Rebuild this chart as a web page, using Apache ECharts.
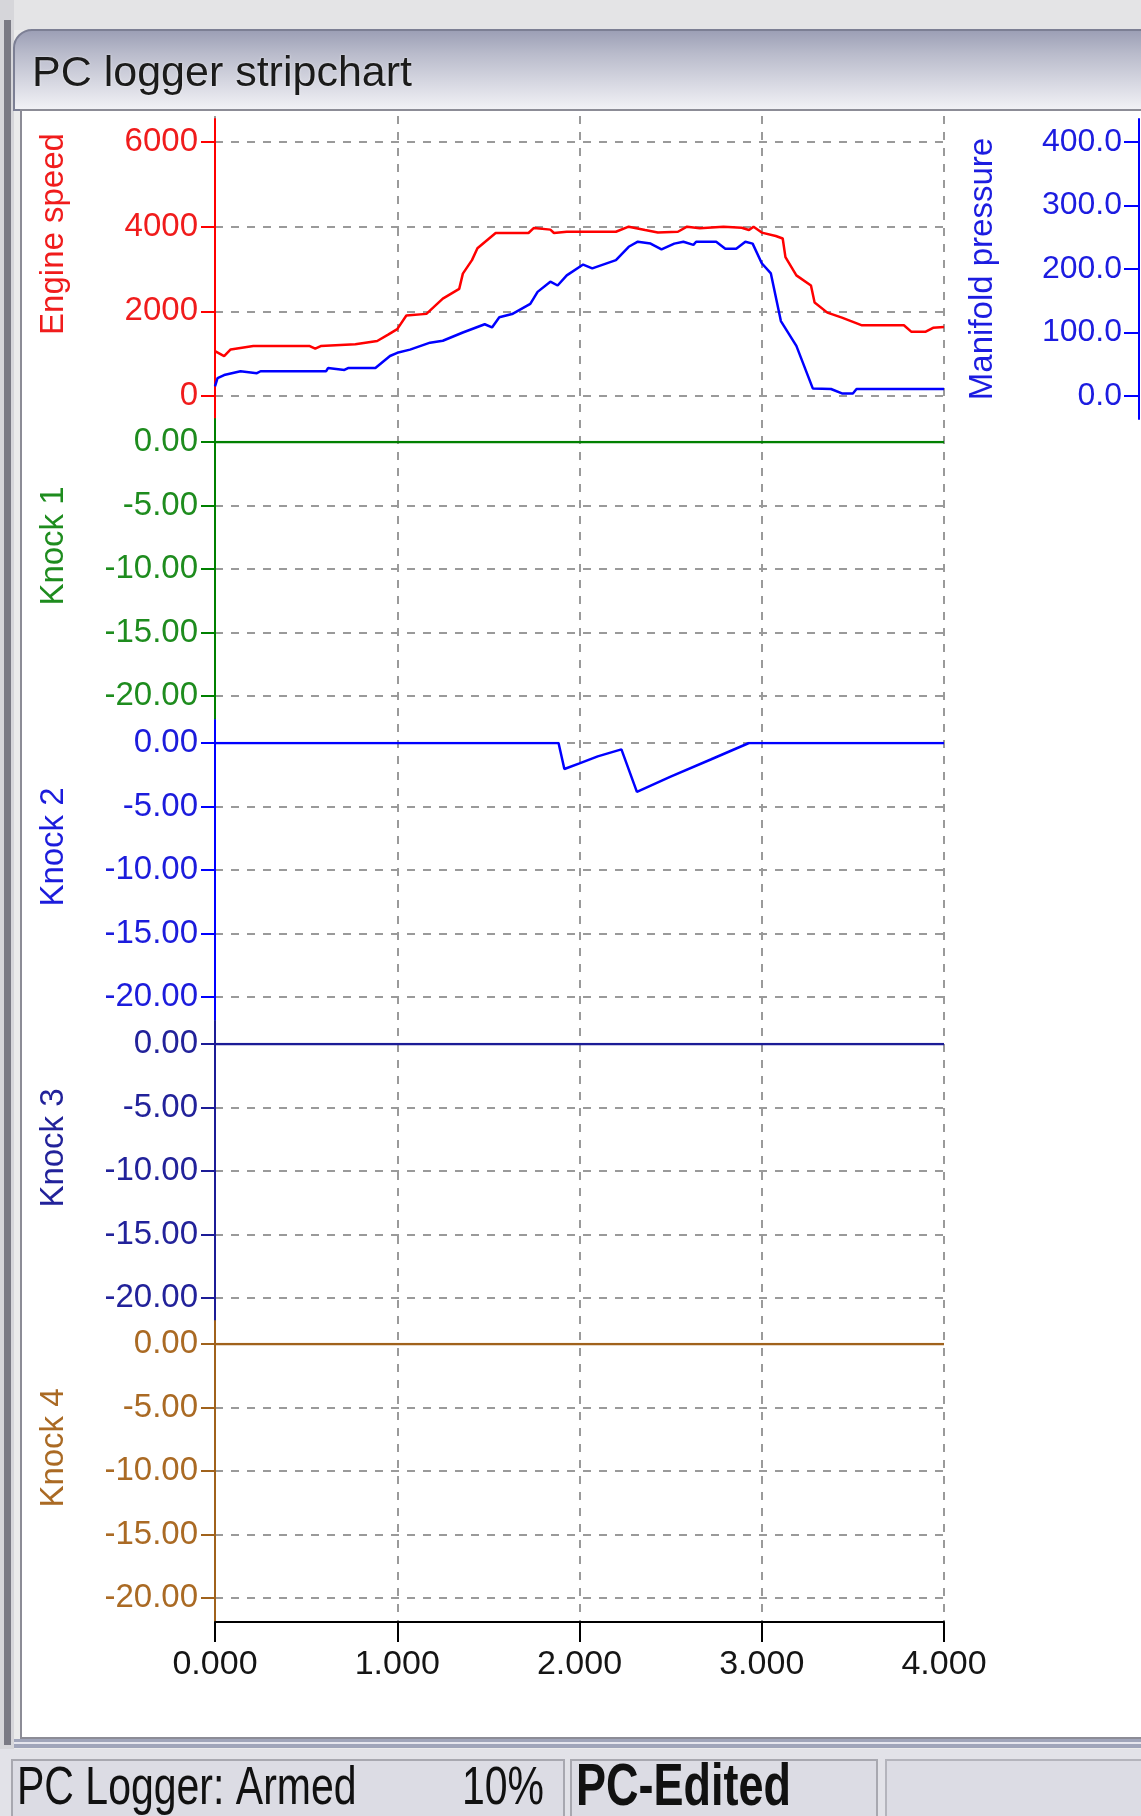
<!DOCTYPE html>
<html>
<head>
<meta charset="utf-8">
<title>PC logger stripchart</title>
<script src="https://cdn.jsdelivr.net/npm/echarts@6.0.0/dist/echarts.min.js"></script>
<style>
  html, body { margin: 0; padding: 0; background: #ebebeb; }
  #stripchart { width: 1141px; height: 1816px; }
</style>
</head>
<body>
<div id="stripchart"></div>
<script>
// time axis (s)
const timeTicks = ['0.000', '1.000', '2.000', '3.000', '4.000'];
const engineTicks = ['0', '2000', '4000', '6000'];
const manifoldTicks = ['0.0', '100.0', '200.0', '300.0', '400.0'];
const knockTicks = ['-20.00', '-15.00', '-10.00', '-5.00', '0.00'];

// engine speed (rpm)
const engineTime = [0, 0.05, 0.086, 0.21, 0.52, 0.55, 0.58, 0.77, 0.89, 0.95, 1.0, 1.05, 1.16, 1.25, 1.34, 1.36, 1.41, 1.44, 1.54,
  1.72, 1.75, 1.84, 1.86, 1.93, 2.2, 2.27, 2.36, 2.43, 2.54, 2.59, 2.66, 2.79, 2.89, 2.93, 2.955, 3.0, 3.077, 3.115, 3.13,
  3.19, 3.27, 3.29, 3.36, 3.44, 3.55, 3.78, 3.82, 3.9, 3.94, 4.0];
const engineSpeed = [1060, 940, 1100, 1180, 1180, 1120, 1180, 1220, 1300, 1450, 1580, 1900, 1940, 2300, 2530, 2890, 3210, 3490, 3850,
  3850, 3970, 3930, 3850, 3880, 3880, 4000, 3920, 3860, 3880, 4000, 3960, 4000, 3975, 3920, 4000, 3860, 3780, 3720, 3280,
  2850, 2610, 2210, 1970, 1850, 1670, 1670, 1520, 1520, 1610, 1630];

// manifold pressure (kPa)
const manifoldTime = [0, 0.014, 0.05, 0.14, 0.23, 0.25, 0.61, 0.62, 0.71, 0.73, 0.88, 0.96, 1.0, 1.07, 1.18, 1.25, 1.36, 1.48,
  1.52, 1.56, 1.63, 1.73, 1.77, 1.84, 1.88, 1.93, 2.02, 2.07, 2.2, 2.27, 2.32, 2.39, 2.45, 2.52, 2.57, 2.625, 2.64, 2.75,
  2.8, 2.86, 2.91, 2.95, 3.0, 3.05, 3.105, 3.19, 3.28, 3.38, 3.44, 3.5, 3.52, 4.0];
const manifoldPressure = [15, 28, 33, 39, 36, 39, 39, 44, 41, 44, 44, 63, 68, 73, 84, 87, 100, 113,
  108, 124, 129, 145, 164, 180, 174, 190, 207, 201, 214, 235, 243, 240, 231, 240, 243, 238, 243, 243,
  232, 232, 243, 240, 209, 193, 118, 79, 12, 11, 4, 4, 11, 11];

// knock 2 retard
const knock2Time = [0, 1.885, 1.917, 2.0, 2.1, 2.23, 2.315, 2.5, 2.72, 2.93, 4.0];
const knock2Value = [0, 0, -2.05, -1.6, -1.05, -0.5, -3.85, -2.65, -1.3, 0, 0];

// knock 1, 3 and 4 stay at zero
const knockFlatTime = [0, 4];
const knockFlatValue = [0, 0];

const panelNames = ['Engine speed', 'Knock 1', 'Knock 2', 'Knock 3', 'Knock 4'];
const panelColors = ['#ff0000', '#008000', '#0000ff', '#1c1c96', '#a0621c'];
const panelTextColors = ['#f01c1c', '#1e8c1e', '#1c1cdc', '#22229a', '#aa6a24'];
// names sit a little above the middle of each strip
const namePadding = [70, 46, 46, 46, 46];
const manifoldColor = '#0000ff';

const sansFont = "'Liberation Sans', Arial, sans-serif";

// layout
const plotLeft = 215, plotWidth = 729;
const panelTop = [142, 442, 743, 1044, 1344];
const panelHeight = 254, framePad = 23;
const gridDash = { color: '#9a9a9a', width: 2, type: [8, 8] };

const zip = (xs, ys) => xs.map((x, i) => [x, ys[i]]);

const grids = [{ left: plotLeft, width: plotWidth, top: 116, height: 1506 }];
const xAxes = [{
  gridIndex: 0, type: 'value', min: 0, max: 4, interval: 1,
  axisLine: { lineStyle: { color: '#000', width: 2 } },
  axisTick: { length: 20, lineStyle: { color: '#000', width: 2 } },
  axisLabel: { margin: 26, color: '#151515', fontSize: 34, fontFamily: sansFont,
    formatter: (v, i) => timeTicks[i] },
  splitLine: { show: true, lineStyle: gridDash }
}];
const yAxes = [{ gridIndex: 0, show: false, min: 0, max: 1 }];

const panelRanges = [
  { min: 0, max: 6000, interval: 2000, ticks: engineTicks },
  { min: -20, max: 0, interval: 5, ticks: knockTicks },
  { min: -20, max: 0, interval: 5, ticks: knockTicks },
  { min: -20, max: 0, interval: 5, ticks: knockTicks },
  { min: -20, max: 0, interval: 5, ticks: knockTicks }
];

panelTop.forEach((top, i) => {
  // frame grid: coloured axis line running a bit past the ticks
  grids.push({ left: plotLeft, width: plotWidth, top: top - framePad, height: panelHeight + 2 * framePad });
  xAxes.push({ gridIndex: grids.length - 1, type: 'value', min: 0, max: 4, show: false });
  yAxes.push({
    gridIndex: grids.length - 1, type: 'value', min: 0, max: 1,
    axisLine: { show: true, onZero: false, lineStyle: { color: panelColors[i], width: 2 } },
    axisTick: { show: false }, axisLabel: { show: false }, splitLine: { show: false }
  });
  // data grid
  const r = panelRanges[i];
  grids.push({ left: plotLeft, width: plotWidth, top: top, height: panelHeight });
  xAxes.push({ gridIndex: grids.length - 1, type: 'value', min: 0, max: 4, show: false });
  yAxes.push({
    gridIndex: grids.length - 1, type: 'value', min: r.min, max: r.max, interval: r.interval,
    name: panelNames[i], nameLocation: 'middle', nameGap: 145, nameRotate: 90, nameMoveOverlap: false,
    nameTextStyle: { color: panelTextColors[i], fontSize: 33, fontFamily: sansFont,
      padding: [0, 0, 0, namePadding[i]] },
    axisLine: { show: false },
    axisTick: { show: true, length: 14, lineStyle: { color: panelColors[i], width: 2 } },
    axisLabel: { margin: 17, color: panelTextColors[i], fontSize: 33, fontFamily: sansFont,
      formatter: (v, idx) => r.ticks[idx] },
    splitLine: { show: true, lineStyle: gridDash }
  });
});

// manifold pressure: right-hand axis of the first panel
yAxes.push({
  gridIndex: 1, type: 'value', min: 0, max: 1, position: 'right', offset: 195,
  axisLine: { show: true, onZero: false, lineStyle: { color: manifoldColor, width: 2 } },
  axisTick: { show: false }, axisLabel: { show: false }, splitLine: { show: false }
});
yAxes.push({
  gridIndex: 2, type: 'value', min: 0, max: 400, interval: 100, position: 'right', offset: 195,
  name: 'Manifold pressure', nameLocation: 'middle', nameGap: -173, nameRotate: 90, nameMoveOverlap: false,
  nameTextStyle: { color: '#1c1ce0', fontSize: 33, fontFamily: sansFont },
  axisLine: { show: false },
  axisTick: { show: true, inside: true, length: 15, lineStyle: { color: manifoldColor, width: 2 } },
  axisLabel: { inside: true, margin: 17, color: '#1c1ce0', fontSize: 32, fontFamily: sansFont,
    formatter: (v, idx) => manifoldTicks[idx] },
  splitLine: { show: false }
});

const lineSeries = (name, xi, yi, data, color) => ({
  name: name, type: 'line', xAxisIndex: xi, yAxisIndex: yi, data: data,
  showSymbol: false, symbol: 'none', z: 5,
  lineStyle: { color: color, width: 2.5 }
});

// status bar text, stretched upright like the screenshot
const statusText = (text, x, font, align) => ({
  type: 'text', x: x, y: 1789, z: 2, scaleY: 1.3,
  style: { text: text, fill: '#111', font: font, verticalAlign: 'middle', align: align || 'left' }
});

const option = {
  animation: false,
  backgroundColor: '#ebebeb',
  title: {
    text: 'PC logger stripchart', left: 32, top: 53, padding: 0,
    textStyle: { color: '#1b1b1b', fontSize: 43, fontWeight: 'normal', fontFamily: sansFont,
      textShadowColor: 'rgba(255,255,255,0.8)', textShadowBlur: 2 }
  },
  grid: grids,
  xAxis: xAxes,
  yAxis: yAxes,
  series: [
    lineSeries('Engine speed', 2, 2, zip(engineTime, engineSpeed), panelColors[0]),
    lineSeries('Manifold pressure', 2, 12, zip(manifoldTime, manifoldPressure), manifoldColor),
    lineSeries('Knock 1', 4, 4, zip(knockFlatTime, knockFlatValue), panelColors[1]),
    lineSeries('Knock 2', 6, 6, zip(knock2Time, knock2Value), panelColors[2]),
    lineSeries('Knock 3', 8, 8, zip(knockFlatTime, knockFlatValue), panelColors[3]),
    lineSeries('Knock 4', 10, 10, zip(knockFlatTime, knockFlatValue), panelColors[4])
  ],
  graphic: [
    // window chrome
    { type: 'rect', z: -10, shape: { x: 0, y: 0, width: 1141, height: 30 }, style: { fill: '#e4e4e6' } },
    { type: 'rect', z: -10, shape: { x: 0, y: 0, width: 14, height: 1750 }, style: { fill: '#d6d6da' } },
    { type: 'rect', z: -9, shape: { x: 4, y: 20, width: 7, height: 1725 }, style: { fill: '#7a7a84' } },
    { type: 'rect', z: -9, shape: { x: 14, y: 30, width: 1140, height: 80, r: [18, 0, 0, 0] },
      style: { stroke: '#7c7f94', lineWidth: 2,
        fill: { type: 'linear', x: 0, y: 0, x2: 0, y2: 1, colorStops: [
          { offset: 0, color: '#9a9db4' }, { offset: 0.3, color: '#b9bbcb' }, { offset: 1, color: '#f3f3f7' }] } } },
    { type: 'rect', z: -8, shape: { x: 21, y: 110, width: 1130, height: 1628 },
      style: { fill: '#ffffff', stroke: '#8c8c96', lineWidth: 2 } },
    { type: 'rect', z: -8, shape: { x: 14, y: 1739, width: 1127, height: 9 }, style: { fill: '#a0a5ba' } },
    { type: 'rect', z: -7, shape: { x: 14, y: 1742, width: 1127, height: 2 }, style: { fill: '#e6e6ee' } },
    { type: 'rect', z: -8, shape: { x: 0, y: 1749, width: 1141, height: 67 }, style: { fill: '#e2e2e8' } },
    // status bar panes
    { type: 'rect', z: -7, shape: { x: 12, y: 1760, width: 552, height: 60 },
      style: { fill: '#dcdce4', stroke: '#a8a8b0', lineWidth: 2 } },
    { type: 'rect', z: -7, shape: { x: 571, y: 1760, width: 306, height: 60 },
      style: { fill: '#dcdce4', stroke: '#a8a8b0', lineWidth: 2 } },
    { type: 'rect', z: -7, shape: { x: 886, y: 1760, width: 270, height: 60 },
      style: { fill: '#dcdce4', stroke: '#b4b4bc', lineWidth: 2 } },
    statusText('PC Logger: Armed', 17, '41px ' + sansFont),
    statusText('10%', 544, '41px ' + sansFont, 'right'),
    statusText('PC-Edited', 576, 'bold 45px ' + sansFont)
  ]
};

const chart = echarts.init(document.getElementById('stripchart'));
chart.setOption(option);
</script>
</body>
</html>
